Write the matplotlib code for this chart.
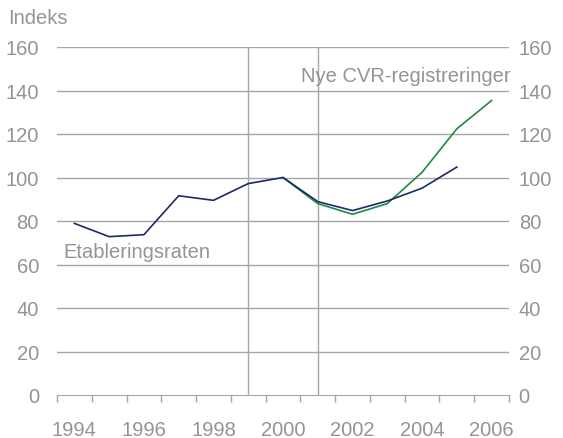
import matplotlib.pyplot as plt

plt.rcParams['font.family'] = ['Liberation Sans', 'DejaVu Sans']

years = list(range(1994, 2007))
etablering = [78.9, 72.8, 73.7, 91.6, 89.5, 97.2, 100, 88.9, 84.8, 89.2, 95.1, 104.8]
cvr_years = [2000, 2001, 2002, 2003, 2004, 2005, 2006]
cvr = [100, 88, 83.1, 88, 102.4, 122.4, 135.4]
yticks = [0, 20, 40, 60, 80, 100, 120, 140, 160]
xlabels = ["1994", "1996", "1998", "2000", "2002", "2004", "2006"]
marker_years = [1999, 2001]

grey_txt = "#949494"
grey_line = "#a6a6a6"
fs = 14.5

W, H = 563, 439
fig = plt.figure(figsize=(W / 100, H / 100), dpi=100)
ax = fig.add_axes([57 / W, 43 / H, (509 - 57) / W, (396 - 48) / H])

ax.set_xlim(years[0] - 0.5, years[-1] + 0.5)
ax.set_ylim(0, 160)

# gridlines
for v in yticks[1:]:
    ax.axhline(v, color=grey_line, lw=1, zorder=1)
for yr in marker_years:
    ax.axvline(yr, color=grey_line, lw=1, zorder=1)

ax.plot(cvr_years, cvr, color="#1e8b3e", lw=1.2, zorder=3)
ax.plot(years[:len(etablering)], etablering, color="#1c2a66", lw=1.2, zorder=4)

for s in ["top", "left", "right"]:
    ax.spines[s].set_visible(False)
ax.spines["bottom"].set_color(grey_line)

ax.set_xticks([int(l) for l in xlabels])
ax.set_xticklabels(xlabels)
ax.set_xticks([y - 0.5 for y in years] + [years[-1] + 0.5], minor=True)
ax.tick_params(axis="x", which="major", length=0, pad=18, labelsize=fs, labelcolor=grey_txt)
ax.tick_params(axis="x", which="minor", length=5, width=1, color=grey_line, direction="out")

ax.set_yticks(yticks)
ax.tick_params(axis="y", length=0, pad=13, labelsize=fs, labelcolor=grey_txt)

ax2 = ax.twinx()
ax2.set_ylim(0, 160)
ax2.set_yticks(yticks)
ax2.tick_params(axis="y", length=0, pad=7, labelsize=fs, labelcolor=grey_txt)
for s in ax2.spines.values():
    s.set_visible(False)

fig.text(8 / W, 1 - 19 / H, "Indeks", fontsize=fs, color=grey_txt, ha="left", va="center")
fig.text(511 / W, 1 - 77 / H, "Nye CVR-registreringer", fontsize=fs, color=grey_txt, ha="right", va="center")
fig.text(63 / W, 1 - 252 / H, "Etableringsraten", fontsize=fs, color=grey_txt, ha="left", va="center")

fig.savefig("out.png", dpi=100)
